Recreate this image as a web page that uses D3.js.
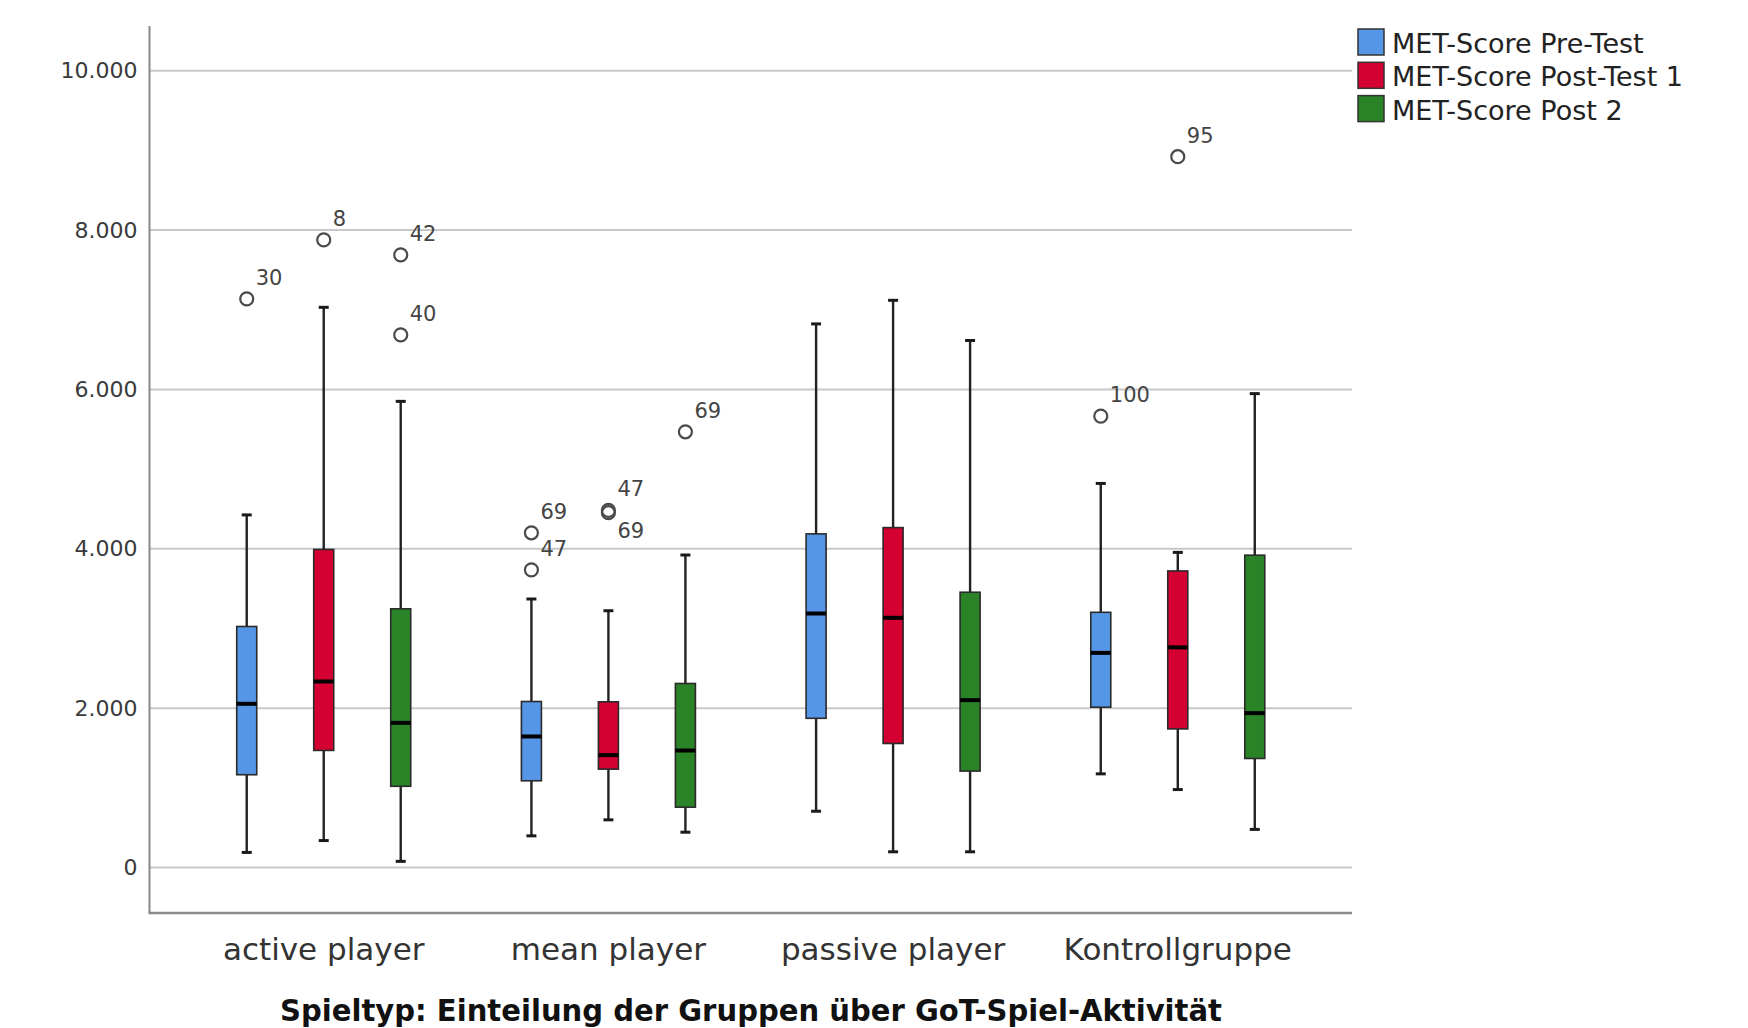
<!DOCTYPE html>
<html>
<head>
<meta charset="utf-8">
<script src="https://cdn.jsdelivr.net/npm/d3@7"></script>
<style>
    html, body { margin: 0; padding: 0; background: #fff; }
    svg { display: block; font-family: 'DejaVu Sans', sans-serif; }
</style>
</head>
<body>
<div id="chart"></div>
<script>
const width = 1748;
const height = 1028;

// categories on the x axis
const groups = ['active player', 'mean player', 'passive player', 'Kontrollgruppe'];

// the three measurements
const seriesNames = ['MET-Score Pre-Test', 'MET-Score Post-Test 1', 'MET-Score Post 2'];
const seriesColors = ['#5596e6', '#d50032', '#2a8427'];

// [whisker low, Q1, median, Q3, whisker high] per group
const preTest = [
    [190, 1165, 2055, 3025, 4425],
    [398, 1089, 1645, 2084, 3370],
    [707, 1873, 3188, 4187, 6822],
    [1176, 2012, 2694, 3203, 4820]
];
const postTest1 = [
    [339, 1470, 2335, 3992, 7030],
    [599, 1235, 1411, 2080, 3223],
    [198, 1557, 3134, 4266, 7118],
    [979, 1740, 2763, 3722, 3955]
];
const post2 = [
    [78, 1020, 1816, 3247, 5850],
    [444, 758, 1469, 2310, 3922],
    [198, 1211, 2101, 3455, 6614],
    [479, 1369, 1938, 3920, 5947]
];
const seriesData = [preTest, postTest1, post2];

// outliers: group, series index, value, case number
const outliers = [
    {group: 'active player', series: 0, value: 7136, id: '30'},
    {group: 'active player', series: 1, value: 7876, id: '8'},
    {group: 'active player', series: 2, value: 7688, id: '42'},
    {group: 'active player', series: 2, value: 6684, id: '40'},
    {group: 'mean player', series: 0, value: 4201, id: '69'},
    {group: 'mean player', series: 0, value: 3736, id: '47'},
    {group: 'mean player', series: 1, value: 4482, id: '47'},
    {group: 'mean player', series: 1, value: 4453, id: '69'},
    {group: 'mean player', series: 2, value: 5468, id: '69'},
    {group: 'Kontrollgruppe', series: 0, value: 5664, id: '100'},
    {group: 'Kontrollgruppe', series: 1, value: 8920, id: '95'}
];

const yTicks = [0, 2000, 4000, 6000, 8000, 10000];
const xTitle = 'Spieltyp: Einteilung der Gruppen über GoT-Spiel-Aktivität';

const plot = {left: 149.5, right: 1352, top: 26, bottom: 913};
const boxWidth = 20;

let svg = d3.select('#chart').append('svg')
    .attr('width', width)
    .attr('height', height);

let y = d3.scaleLinear()
    .domain([-570, 10560])
    .range([plot.bottom, plot.top]);

let x = d3.scaleBand()
    .domain(groups)
    .range([plot.left, plot.right])
    .paddingInner(0)
    .paddingOuter(0.112);

let xs = d3.scalePoint()
    .domain([0, 1, 2])
    .range([-77, 77]);

const cx = (g, s) => x(g) + x.bandwidth() / 2 + xs(s);

// gridlines
svg.append('g')
    .selectAll('line')
    .data(yTicks)
    .enter()
    .append('line')
    .attr('x1', plot.left)
    .attr('x2', plot.right)
    .attr('y1', d => y(d))
    .attr('y2', d => y(d))
    .attr('stroke', '#c8c8c8')
    .attr('stroke-width', 2);

// y axis
let yAxis = svg.append('g')
    .attr('transform', 'translate(' + plot.left + ',0)')
    .call(d3.axisLeft(y)
        .tickValues(yTicks)
        .tickSize(0)
        .tickPadding(12)
        .tickFormat(d => d === 0 ? '0' : d3.format(',')(d).replace(/,/g, '.')));
yAxis.select('.domain').remove();
yAxis.selectAll('text')
    .attr('font-size', 22)
    .attr('font-family', "'DejaVu Sans', sans-serif")
    .attr('fill', '#3a3a3a');

svg.append('line')
    .attr('x1', plot.left).attr('x2', plot.left)
    .attr('y1', plot.top).attr('y2', plot.bottom)
    .attr('stroke', '#8a8a8a')
    .attr('stroke-width', 2);

// x axis
let xAxis = svg.append('g')
    .attr('transform', 'translate(0,' + plot.bottom + ')')
    .call(d3.axisBottom(x).tickSize(0).tickPadding(0));
xAxis.select('.domain').remove();
xAxis.selectAll('text')
    .attr('y', 47)
    .attr('dy', 0)
    .attr('font-size', 31)
    .attr('font-family', "'DejaVu Sans', sans-serif")
    .attr('fill', '#333');

svg.append('line')
    .attr('x1', plot.left - 1).attr('x2', plot.right)
    .attr('y1', plot.bottom).attr('y2', plot.bottom)
    .attr('stroke', '#8a8a8a')
    .attr('stroke-width', 2.5);

svg.append('text')
    .attr('x', (280 + 1222) / 2)
    .attr('y', 1021)
    .attr('text-anchor', 'middle')
    .attr('font-size', 30)
    .attr('font-weight', 'bold')
    .attr('fill', '#111')
    .attr('textLength', 942)
    .attr('lengthAdjust', 'spacingAndGlyphs')
    .text(xTitle);

// boxes
let boxes = [];
seriesData.forEach((rows, s) => {
    rows.forEach((r, i) => {
        boxes.push({group: groups[i], series: s, lo: r[0], q1: r[1], med: r[2], q3: r[3], hi: r[4]});
    });
});

let box = svg.append('g')
    .selectAll('g')
    .data(boxes)
    .enter()
    .append('g');

box.append('line')
    .attr('x1', d => cx(d.group, d.series))
    .attr('x2', d => cx(d.group, d.series))
    .attr('y1', d => y(d.hi))
    .attr('y2', d => y(d.lo))
    .attr('stroke', '#222')
    .attr('stroke-width', 2.4);

box.selectAll('.cap')
    .data(d => [d.hi, d.lo].map(v => ({d: d, v: v})))
    .enter()
    .append('line')
    .attr('class', 'cap')
    .attr('x1', e => cx(e.d.group, e.d.series) - 5)
    .attr('x2', e => cx(e.d.group, e.d.series) + 5)
    .attr('y1', e => y(e.v))
    .attr('y2', e => y(e.v))
    .attr('stroke', '#1a1a1a')
    .attr('stroke-width', 3);

box.append('rect')
    .attr('x', d => cx(d.group, d.series) - boxWidth / 2)
    .attr('y', d => y(d.q3))
    .attr('width', boxWidth)
    .attr('height', d => y(d.q1) - y(d.q3))
    .attr('fill', d => seriesColors[d.series])
    .attr('stroke', '#2a2a2a')
    .attr('stroke-width', 1.6);

box.append('line')
    .attr('x1', d => cx(d.group, d.series) - boxWidth / 2)
    .attr('x2', d => cx(d.group, d.series) + boxWidth / 2)
    .attr('y1', d => y(d.med))
    .attr('y2', d => y(d.med))
    .attr('stroke', '#000')
    .attr('stroke-width', 4);

// outliers
let out = svg.append('g')
    .selectAll('g')
    .data(outliers)
    .enter()
    .append('g');

out.append('circle')
    .attr('cx', d => cx(d.group, d.series))
    .attr('cy', d => y(d.value))
    .attr('r', 6.5)
    .attr('fill', 'none')
    .attr('stroke', '#4a4a4a')
    .attr('stroke-width', 2.2);

// label goes below when another outlier of the same box sits just above
const labelBelow = d => outliers.some(o => o !== d && o.group === d.group && o.series === d.series
    && o.value > d.value && o.value - d.value < 150);

out.append('text')
    .attr('x', d => cx(d.group, d.series) + 9)
    .attr('y', d => y(d.value) + (labelBelow(d) ? 25 : -14))
    .attr('font-size', 21)
    .attr('fill', '#444')
    .text(d => d.id);

// legend
let legend = svg.append('g')
    .selectAll('g')
    .data(seriesNames)
    .enter()
    .append('g')
    .attr('transform', (d, i) => 'translate(1358,' + (29 + i * 33.3) + ')');

legend.append('rect')
    .attr('width', 26)
    .attr('height', 26)
    .attr('fill', (d, i) => seriesColors[i])
    .attr('stroke', '#333')
    .attr('stroke-width', 1.5);

legend.append('text')
    .attr('x', 34)
    .attr('y', 24)
    .attr('font-size', 27)
    .attr('fill', '#222')
    .text(d => d);
</script>
</body>
</html>
